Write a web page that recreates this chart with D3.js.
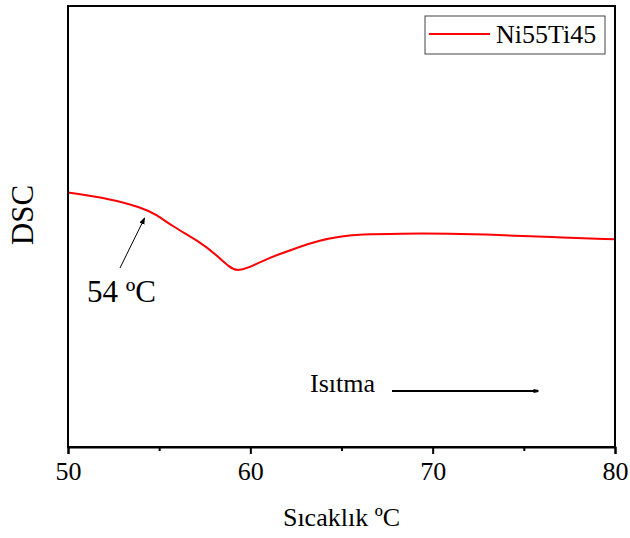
<!DOCTYPE html>
<html>
<head>
<meta charset="utf-8">
<script src="https://cdn.jsdelivr.net/npm/d3@7"></script>
<style>
  body { margin: 0; background: #fff; }
</style>
</head>
<body>
<div id="chart"></div>
<script>
// temperature (°C) and DSC signal (arbitrary units)
let temps = [50.0, 52.3, 54.1, 54.85, 55.75, 57.2, 58.1, 58.9, 59.25, 59.8, 60.9, 62.3, 63.8, 65.05, 66.0, 68.2, 70.9, 73.6, 76.4, 80.0];
let dsc = [57.7, 56.3, 54.2, 52.7, 50.0, 46.6, 43.7, 40.6, 40.0, 40.4, 42.7, 44.8, 46.9, 47.8, 48.2, 48.4, 48.4, 48.1, 47.6, 47.1];
let xTicks = [50, 60, 70, 80];
let xMinor = [55, 65, 75];
let seriesName = 'Ni55Ti45';

let width = 630, height = 538;
let margin = {top: 6, right: 15, bottom: 91, left: 68};
let serif = 'Liberation Serif';

let svg = d3.select('#chart').append('svg')
	.attr('width', width)
	.attr('height', height);

let x = d3.scaleLinear().domain([50, 80]).range([margin.left, width - margin.right]);
let y = d3.scaleLinear().domain([0, 100]).range([height - margin.bottom, margin.top]);

let defs = svg.append('defs');
defs.append('marker')
	.attr('id', 'head')
	.attr('viewBox', '0 0 10 10')
	.attr('refX', 9).attr('refY', 5)
	.attr('markerWidth', 7).attr('markerHeight', 7)
	.attr('markerUnits', 'userSpaceOnUse')
	.attr('orient', 'auto')
	.append('path').attr('d', 'M0,1 L10,5 L0,9 Z').attr('fill', '#000');
defs.append('marker')
	.attr('id', 'head2')
	.attr('viewBox', '0 0 10 10')
	.attr('refX', 9).attr('refY', 5)
	.attr('markerWidth', 12).attr('markerHeight', 5)
	.attr('markerUnits', 'userSpaceOnUse')
	.attr('orient', 'auto')
	.append('path').attr('d', 'M0,1 L10,3 L10,7 L0,9 Z').attr('fill', '#000');

// curve
let line = d3.line()
	.x((d, i) => x(temps[i]))
	.y(d => y(d))
	.curve(d3.curveBasis);

svg.append('path')
	.datum(dsc)
	.attr('d', line)
	.attr('fill', 'none')
	.attr('stroke', '#ff0000')
	.attr('stroke-width', 2);

// frame
svg.append('rect')
	.attr('x', margin.left).attr('y', margin.top)
	.attr('width', width - margin.left - margin.right)
	.attr('height', height - margin.top - margin.bottom)
	.attr('fill', 'none')
	.attr('stroke', '#000')
	.attr('stroke-width', 2);

// x axis
let xAxis = svg.append('g')
	.attr('transform', `translate(0,${height - margin.bottom})`)
	.call(d3.axisBottom(x).tickValues(xTicks).tickSize(7).tickPadding(8).tickFormat(d3.format('d')));
xAxis.select('.domain').attr('stroke-width', 2);
xAxis.selectAll('.tick line').attr('stroke-width', 2);
xAxis.selectAll('text')
	.attr('font-size', 26)
	.attr('font-family', serif)
	.attr('fill', '#000');

svg.append('g')
	.attr('transform', `translate(0,${height - margin.bottom})`)
	.call(d3.axisBottom(x).tickValues(xMinor).tickSize(4).tickFormat(''))
	.call(g => g.select('.domain').remove())
	.selectAll('.tick line').attr('stroke-width', 2);

// axis titles
svg.append('text')
	.attr('x', (x(50) + x(80)) / 2)
	.attr('y', 526)
	.attr('text-anchor', 'middle')
	.attr('font-family', serif)
	.attr('font-size', 26)
	.text('Sıcaklık ºC');

svg.append('text')
	.attr('transform', `translate(33,215) rotate(-90)`)
	.attr('text-anchor', 'middle')
	.attr('font-family', serif)
	.attr('font-size', 31)
	.text('DSC');

// legend
let lg = svg.append('g');
lg.append('rect')
	.attr('x', 425).attr('y', 16)
	.attr('width', 180).attr('height', 38)
	.attr('fill', '#fff')
	.attr('stroke', '#444')
	.attr('stroke-width', 1);
lg.append('line')
	.attr('x1', 429).attr('x2', 490)
	.attr('y1', 34).attr('y2', 34)
	.attr('stroke', '#ff0000').attr('stroke-width', 2);
lg.append('text')
	.attr('x', 496).attr('y', 43)
	.attr('font-family', serif)
	.attr('font-size', 26)
	.text(seriesName);

// annotations
svg.append('line')
	.attr('x1', 120).attr('y1', 268)
	.attr('x2', x(54.2)).attr('y2', y(54.2) + 10)
	.attr('stroke', '#000').attr('stroke-width', 1)
	.attr('marker-end', 'url(#head)');

svg.append('text')
	.attr('x', 87).attr('y', 302)
	.attr('font-family', serif)
	.attr('font-size', 31)
	.text('54 ºC');

svg.append('text')
	.attr('x', 310).attr('y', 392)
	.attr('font-family', serif)
	.attr('font-size', 26)
	.text('Isıtma');

svg.append('line')
	.attr('x1', 392).attr('x2', 538)
	.attr('y1', 391).attr('y2', 391)
	.attr('stroke', '#000').attr('stroke-width', 2)
	.attr('marker-end', 'url(#head2)');
</script>
</body>
</html>
